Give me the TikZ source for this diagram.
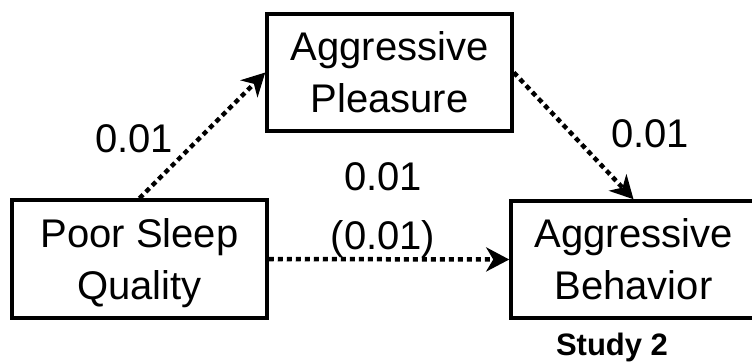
\documentclass[tikz,border=0pt]{standalone}
\usepackage{fontspec}
\setmainfont{Liberation Sans}
\usetikzlibrary{arrows.meta}

\begin{document}
\begin{tikzpicture}[x=1pt, y=-1pt,
  varbox/.style={draw, line width=3.5pt, inner sep=0pt, align=center,
    font=\fontsize{40}{52}\selectfont, text depth=0pt},
  coef/.style={anchor=base, inner sep=0pt, font=\fontsize{40}{48}\selectfont},
  path/.style={line width=4.5pt, dash pattern=on 5pt off 4pt,
    -{Stealth[length=23pt, width=24pt, inset=7pt]}}]
  \useasboundingbox (0,0) rectangle (752,362);

  % variables
  \node[varbox, minimum width=255pt, minimum height=118pt] (sleep) at (139.5,259) {Poor Sleep\\Quality};
  \node[varbox, minimum width=245pt, minimum height=117pt] (pleasure) at (389.5,72.5) {Aggressive\\Pleasure};
  \node[varbox, minimum width=245pt, minimum height=117pt] (behavior) at (633.5,259.5) {Aggressive\\Behavior};

  % paths
  \draw[path] (sleep.north) -- (pleasure.west);
  \draw[path] (pleasure.east) -- (behavior.north);
  \draw[path] (sleep.east) -- (behavior.west);

  % coefficients
  \node[coef] (a) at (134,152) {0.01};
  \node[coef] (b) at (650,147) {0.01};
  \node[coef] (c) at (383,190) {0.01};
  \node[coef] (cp) at (383,249) {(0.01)};

  \node[anchor=base, inner sep=0pt, font=\fontsize{31}{31}\selectfont\bfseries] (study) at (612,355) {Study 2};
\end{tikzpicture}
\end{document}
